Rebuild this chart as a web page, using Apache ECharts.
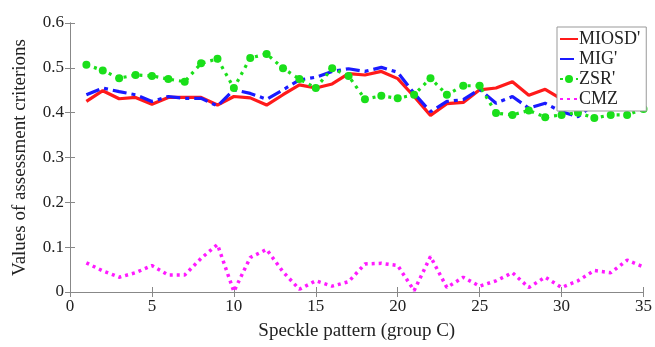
<!DOCTYPE html>
<html>
<head>
<meta charset="utf-8">
<script src="https://cdn.jsdelivr.net/npm/echarts@6/dist/echarts.min.js"></script>
<style>
  html, body { margin: 0; padding: 0; background: #fff; }
  #chart { width: 655px; height: 347px; }
</style>
</head>
<body>
<div id="chart"></div>
<script>
var patterns = [];
for (var i = 1; i <= 35; i++) patterns.push(i);

var miosd = [0.425, 0.449, 0.431, 0.434, 0.419, 0.434, 0.434, 0.434, 0.417, 0.436,
  0.433, 0.417, 0.44, 0.462, 0.455, 0.464, 0.487, 0.484, 0.492, 0.476,
  0.436, 0.394, 0.42, 0.423, 0.451, 0.455, 0.469, 0.439, 0.452, 0.43,
  0.45, 0.47, 0.49, 0.5, 0.493];
var mig = [0.44, 0.455, 0.447, 0.44, 0.425, 0.436, 0.432, 0.432, 0.415, 0.451,
  0.443, 0.43, 0.451, 0.473, 0.479, 0.492, 0.498, 0.492, 0.501, 0.49,
  0.443, 0.402, 0.425, 0.429, 0.452, 0.421, 0.436, 0.41, 0.421, 0.402,
  0.391, 0.42, 0.44, 0.46, 0.462];
var zsr = [0.507, 0.494, 0.477, 0.484, 0.482, 0.475, 0.469, 0.51, 0.52, 0.455,
  0.522, 0.531, 0.499, 0.475, 0.455, 0.499, 0.482, 0.43, 0.4375, 0.432,
  0.44, 0.477, 0.44, 0.46, 0.46, 0.399, 0.395, 0.405, 0.39, 0.395,
  0.4, 0.388, 0.395, 0.395, 0.408];
var cmz = [0.065, 0.047, 0.033, 0.043, 0.059, 0.038, 0.038, 0.075, 0.106, 0.001,
  0.077, 0.095, 0.045, 0.006, 0.025, 0.013, 0.023, 0.0625, 0.064, 0.059,
  0.003, 0.079, 0.01, 0.033, 0.013, 0.025, 0.043, 0.01, 0.033, 0.01,
  0.025, 0.048, 0.043, 0.071, 0.056];

function pairs(arr) {
  return arr.map(function (v, i) { return [patterns[i], v]; });
}

var font = "Liberation Serif";
var textColor = "#222";
var hidden = { opacity: 0 };

var chart = echarts.init(document.getElementById("chart"));
chart.setOption({
  animation: false,
  textStyle: { fontFamily: font },
  grid: { left: 70, right: 9, top: 23, bottom: 55 },
  legend: {
    orient: "vertical",
    left: 557,
    top: 27,
    width: 86,
    padding: [3, 6, 3, 2],
    itemGap: 2,
    itemWidth: 18,
    itemHeight: 10,
    backgroundColor: "#fff",
    borderColor: "#999",
    borderWidth: 1,
    textStyle: { fontFamily: font, fontSize: 18, color: textColor, padding: [0, 0, 0, -4] },
    data: [
      { name: "MIOSD'", itemStyle: hidden },
      { name: "MIG'", itemStyle: hidden },
      { name: "ZSR'" },
      { name: "CMZ", itemStyle: hidden }
    ]
  },
  xAxis: [{
    type: "value",
    min: 0, max: 35, interval: 5,
    name: "Speckle pattern (group C)",
    nameLocation: "middle",
    nameGap: 30,
    nameTextStyle: { fontFamily: font, fontSize: 19, color: textColor },
    axisLine: { onZero: false, lineStyle: { color: "#888" } },
    axisTick: { inside: true, length: 5, lineStyle: { color: "#888" } },
    axisLabel: { fontFamily: font, fontSize: 17, color: textColor, margin: 6 },
    splitLine: { show: false }
  }, {
    type: "value",
    position: "top",
    min: 0, max: 35, interval: 5,
    axisLine: { show: true, lineStyle: { color: "#888" } },
    axisTick: { inside: true, length: 5, lineStyle: { color: "#888" } },
    axisLabel: { show: false },
    splitLine: { show: false }
  }],
  yAxis: [{
    type: "value",
    min: 0, max: 0.6, interval: 0.1,
    name: "Values of assessment criterions",
    nameLocation: "middle",
    nameGap: 40,
    nameTextStyle: { fontFamily: font, fontSize: 19, color: textColor },
    axisLine: { show: true, onZero: false, lineStyle: { color: "#888" } },
    axisTick: { show: true, inside: true, length: 5, lineStyle: { color: "#888" } },
    axisLabel: { fontFamily: font, fontSize: 17, color: textColor, margin: 6 },
    splitLine: { show: false }
  }, {
    type: "value",
    position: "right",
    min: 0, max: 0.6, interval: 0.1,
    axisLine: { show: true, lineStyle: { color: "#888" } },
    axisTick: { show: true, inside: true, length: 5, lineStyle: { color: "#888" } },
    axisLabel: { show: false },
    splitLine: { show: false }
  }],
  series: [
    {
      name: "MIOSD'",
      type: "line",
      data: pairs(miosd),
      symbol: "none",
      color: "#ff1a1a",
      lineStyle: { width: 3.2, color: "#ff1a1a" }
    },
    {
      name: "MIG'",
      type: "line",
      data: pairs(mig),
      symbol: "none",
      color: "#1a1aff",
      lineStyle: { width: 3.2, color: "#1a1aff", type: [14, 5, 4, 5] }
    },
    {
      name: "ZSR'",
      type: "line",
      data: pairs(zsr),
      symbol: "circle",
      symbolSize: 8,
      color: "#1adf1a",
      itemStyle: { color: "#1adf1a" },
      lineStyle: { width: 3.2, color: "#1adf1a", type: [3, 5] }
    },
    {
      name: "CMZ",
      type: "line",
      data: pairs(cmz),
      symbol: "none",
      color: "#ff1aff",
      lineStyle: { width: 3.5, color: "#ff1aff", type: [3, 4] }
    }
  ]
});
</script>
</body>
</html>
